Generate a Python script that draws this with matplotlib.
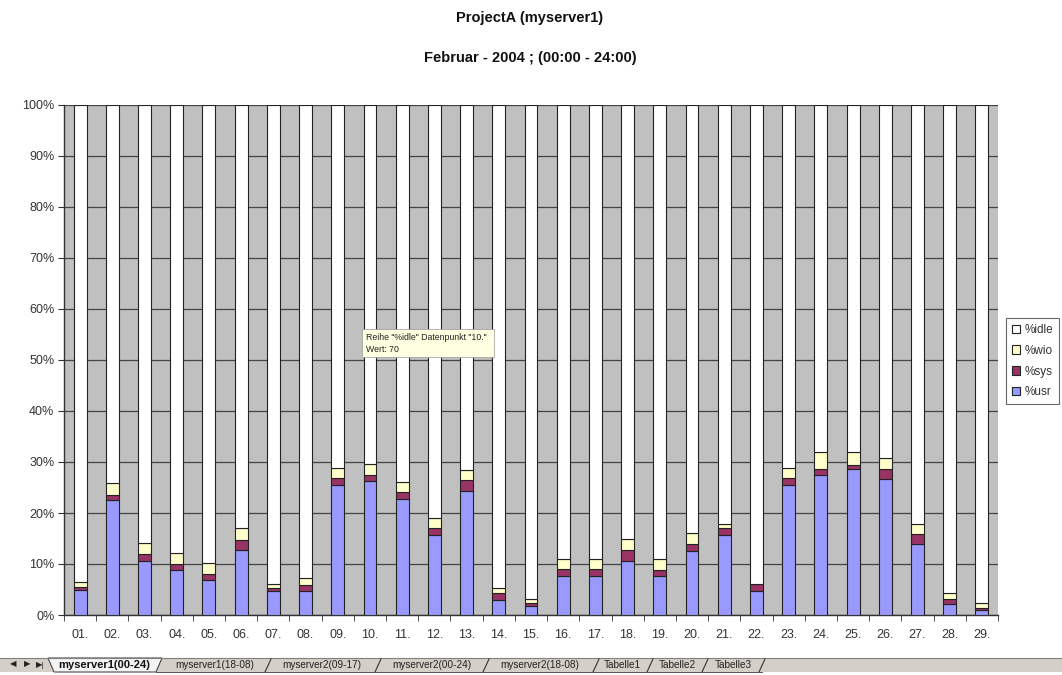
import numpy as np
import matplotlib
matplotlib.use("Agg")
import matplotlib.pyplot as plt
from matplotlib.patches import Rectangle, Polygon

# Daily CPU usage of myserver1, February 2004
days = ["01.", "02.", "03.", "04.", "05.", "06.", "07.", "08.", "09.", "10.",
        "11.", "12.", "13.", "14.", "15.", "16.", "17.", "18.", "19.", "20.",
        "21.", "22.", "23.", "24.", "25.", "26.", "27.", "28.", "29."]
usr = [5.0, 22.6, 10.6, 8.8, 6.9, 12.7, 4.8, 4.8, 25.5, 26.2,
       22.8, 15.7, 24.4, 2.9, 1.8, 7.7, 7.7, 10.6, 7.7, 12.6,
       15.6, 4.8, 25.5, 27.5, 28.7, 26.6, 13.9, 2.1, 1.0]
sys_ = [0.5, 1.0, 1.3, 1.2, 1.2, 2.1, 0.4, 1.1, 1.4, 1.1,
        1.3, 1.3, 2.1, 1.4, 0.5, 1.3, 1.3, 2.2, 1.2, 1.3,
        1.4, 1.2, 1.3, 1.2, 0.8, 2.1, 2.0, 1.0, 0.3]
wio = [1.0, 2.3, 2.2, 2.1, 2.1, 2.3, 0.9, 1.3, 1.9, 2.2,
       2.0, 2.0, 1.9, 0.9, 0.8, 2.0, 2.0, 2.2, 2.1, 2.1,
       0.9, 0.1, 2.0, 3.2, 2.4, 2.1, 2.0, 1.2, 1.1]
idle = [93.5, 74.1, 85.9, 87.9, 89.8, 82.9, 93.9, 92.8, 71.2, 70.0,
        73.9, 81.0, 71.6, 94.8, 96.9, 89.0, 89.0, 85.0, 89.0, 84.0,
        82.1, 93.9, 71.2, 68.1, 68.1, 69.2, 82.1, 95.7, 97.6]
series_names = ["%usr", "%sys", "%wio", "%idle"]
series_colors = ["#9999FF", "#993366", "#FFFFCC", "#FFFFFF"]
sheet_tabs = ["myserver1(00-24)", "myserver1(18-08)", "myserver2(09-17)",
              "myserver2(00-24)", "myserver2(18-08)", "Tabelle1", "Tabelle2", "Tabelle3"]

W, H = 1062, 675
fig = plt.figure(figsize=(W / 100, H / 100), dpi=100)
fig.patch.set_facecolor("white")
plt.rcParams["font.family"] = ["Liberation Sans", "DejaVu Sans"]


def fx(px):
    return px / W


def fy(py):
    return 1 - py / H


# plot area in pixels: x 64..998, y 105..615
ax = fig.add_axes([fx(64), fy(615), fx(998) - fx(64), fy(105) - fy(615)])
ax.set_facecolor("#C0C0C0")

data = np.array([usr, sys_, wio, idle])
pct = data / data.sum(axis=0) * 100  # 100% stacked
x = np.arange(len(days))

bottom = np.zeros(len(days))
bars = []
for vals, name, col in zip(pct, series_names, series_colors):
    b = ax.bar(x, vals, 0.4, bottom=bottom, color=col, edgecolor="#222222",
               linewidth=0.8, label=name, zorder=3)
    bars.append(b)
    bottom += vals

ax.set_xlim(-0.5, len(days) - 0.5)
ax.set_ylim(0, 100)
ax.set_yticks(np.arange(0, 101, 10))
ax.set_yticklabels([f"{v}%" for v in range(0, 101, 10)], fontsize=9, color="#333333")
ax.yaxis.grid(True, color="#444444", linewidth=0.9, zorder=1)
ax.set_axisbelow(True)
ax.set_xticks(x)
ax.set_xticklabels(days, fontsize=9, color="#333333")
ax.set_xticks(np.arange(-0.5, len(days), 1), minor=True)
ax.tick_params(axis="x", which="major", length=0, pad=10)
ax.tick_params(axis="x", which="minor", length=4, color="#333333")
ax.tick_params(axis="y", length=4, color="#333333", pad=3)
for s in ["top", "right"]:
    ax.spines[s].set_visible(False)
for s in ["left", "bottom"]:
    ax.spines[s].set_color("#333333")
    ax.spines[s].set_linewidth(1.0)

# titles
fig.text(fx(530), fy(18), "ProjectA (myserver1)", ha="center", va="center",
         fontsize=10.5, fontweight="bold", color="#111111")
fig.text(fx(530), fy(58), "Februar - 2004 ; (00:00 - 24:00)", ha="center", va="center",
         fontsize=10.5, fontweight="bold", color="#111111")

# legend (reverse order like Excel)
handles = [bars[i] for i in (3, 2, 1, 0)]
labels = [series_names[i] for i in (3, 2, 1, 0)]
leg = fig.legend(handles, labels, loc="upper left",
                 bbox_to_anchor=(fx(1006), fy(318)), fontsize=8.5, frameon=True,
                 fancybox=False, edgecolor="#444444", handlelength=0.7,
                 handleheight=0.7, handletextpad=0.4, borderpad=0.5,
                 labelspacing=0.75, borderaxespad=0)
leg.get_frame().set_linewidth(0.8)
for t in leg.get_texts():
    t.set_color("#333333")

# tooltip box from the Excel screenshot
tip = Rectangle((fx(362), fy(357)), fx(494) - fx(362), fy(329) - fy(357),
                transform=fig.transFigure, facecolor="#FFFFE1", edgecolor="#999999",
                linewidth=0.5, zorder=10)
fig.patches.append(tip)
fig.text(fx(366), fy(337), 'Reihe "%idle" Datenpunkt "10."', fontsize=6.3,
         va="center", color="#222222", zorder=11)
fig.text(fx(366), fy(350), "Wert: 70", fontsize=6.3, va="center", color="#222222", zorder=11)

# sheet tab bar at the bottom
strip_top, strip_bot = 658, 672
bar_bg = Rectangle((0, fy(strip_bot)), 1, fy(strip_top) - fy(strip_bot),
                   transform=fig.transFigure, facecolor="#D4D0C8", edgecolor="none", zorder=0)
fig.patches.append(bar_bg)
fig.add_artist(plt.Line2D([0, 1], [fy(strip_top), fy(strip_top)], transform=fig.transFigure,
                          color="#808080", linewidth=0.8))
for sx, sym in zip([13, 27, 40], ["\u25c0", "\u25b6", "\u25b6|"]):
    fig.text(fx(sx), fy(665), sym, fontsize=6, va="center", ha="center", color="#222222")

# active tab
poly = Polygon([(fx(48), fy(strip_top)), (fx(54), fy(strip_bot)), (fx(156), fy(strip_bot)),
                (fx(162), fy(strip_top))], closed=True, transform=fig.transFigure,
               facecolor="#F4F4F4", edgecolor="#333333", linewidth=0.7)
fig.patches.append(poly)
fig.text(fx(104), fy(665), sheet_tabs[0], fontsize=8, fontweight="bold",
         va="center", ha="center", color="#111111")

tab_centers = [215, 322, 432, 540, 622, 677, 733]
separators = [268, 378, 486, 596, 650, 705, 762]
for name, cx in zip(sheet_tabs[1:], tab_centers):
    fig.text(fx(cx), fy(665), name, fontsize=7.2, va="center", ha="center", color="#222222")
for sx in separators:
    fig.add_artist(plt.Line2D([fx(sx - 3), fx(sx + 3)], [fy(strip_bot), fy(strip_top + 1)],
                              transform=fig.transFigure, color="#333333", linewidth=0.8))
fig.add_artist(plt.Line2D([fx(156), fx(762)], [fy(strip_bot), fy(strip_bot)],
                          transform=fig.transFigure, color="#555555", linewidth=0.7))

fig.savefig("out.png", dpi=100)
